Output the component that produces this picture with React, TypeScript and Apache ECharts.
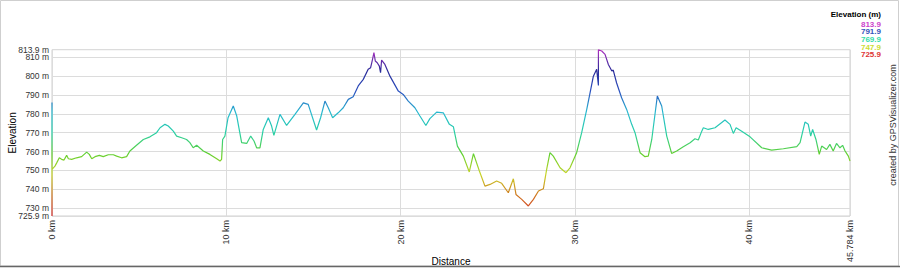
import React, { useEffect, useRef } from "react";
import * as echarts from "echarts";

const distanceKm: number[] = [
  0, 0, 0, 0.17, 0.27, 0.42, 0.55, 0.69, 0.84, 0.94, 1.13, 1.41, 1.7, 1.99, 2.14, 2.28, 2.47, 2.72, 2.94, 3.23,
  3.52, 3.71, 3.99, 4.28, 4.47, 4.85, 5.24, 5.62, 6.0, 6.2, 6.48, 6.67, 6.96, 7.15, 7.44, 7.72, 7.91, 8.1, 8.3,
  8.68, 9.06, 9.45, 9.64, 9.73, 9.79, 9.92, 10.1, 10.4, 10.6, 10.88, 11.17, 11.4, 11.59, 11.74, 11.93, 12.12,
  12.41, 12.6, 12.73, 13.08, 13.46, 13.94, 14.42, 14.7, 15.18, 15.41, 15.66, 15.85, 16.1, 16.42, 16.71, 17.0,
  17.28, 17.57, 17.86, 18.14, 18.28, 18.39, 18.47, 18.55, 18.66, 18.78, 18.85, 18.91, 19.1, 19.39, 19.87, 20.15,
  20.44, 20.82, 21.11, 21.45, 21.68, 22.07, 22.45, 22.8, 23.03, 23.26, 23.6, 23.94, 24.18, 24.52, 24.84, 25.13,
  25.51, 25.8, 26.18, 26.47, 26.62, 26.95, 27.33, 27.62, 27.91, 28.19, 28.38, 28.57, 28.76, 29.15, 29.49, 29.72,
  30.1, 30.39, 30.68, 30.87, 31.06, 31.25, 31.35, 31.35, 31.54, 31.73, 31.92, 32.12, 32.2, 32.39, 32.68, 32.97,
  33.26, 33.45, 33.74, 34.02, 34.21, 34.41, 34.73, 34.98, 35.27, 35.55, 35.84, 36.22, 36.61, 36.89, 37.08, 37.28,
  37.37, 37.65, 38.04, 38.61, 38.9, 39.09, 39.25, 39.57, 40.05, 40.72, 41.29, 41.96, 42.73, 42.92, 43.2, 43.39,
  43.53, 43.64, 43.83, 44.02, 44.16, 44.44, 44.63, 44.82, 45.01, 45.21, 45.36, 45.5, 45.69, 45.784,
];

const elevationM: number[] = [
  725.9, 786, 750.6, 752.3, 754, 756.7, 755.9, 755.5, 758, 756.2, 755.9, 756.7, 757.3, 759.7, 758.5, 756.2, 757.3,
  758, 757.3, 758.3, 758.3, 757.6, 756.7, 757.3, 760.3, 763.3, 766.4, 767.8, 770, 772.6, 774.4, 773.5, 770.8,
  768.2, 767.3, 766.4, 764.7, 762, 763.3, 760.3, 758.5, 756.2, 755, 755.9, 766.4, 768.2, 777.9, 784.1, 778.8,
  764.7, 764.3, 768.2, 765.6, 762, 762, 771.7, 777.9, 773.5, 768.6, 779.7, 773.8, 779.7, 785.8, 785, 771.4, 777.9,
  786.7, 783.2, 777.9, 780.5, 783.2, 787.6, 789, 794.7, 798.2, 803.5, 804.4, 808.8, 812.3, 807.9, 807, 805.2,
  801.7, 808.4, 806.1, 799.9, 792, 790.2, 786.7, 783.2, 778.8, 773.8, 777.4, 780.9, 780.5, 774.4, 773.1, 762.9,
  757.6, 749.2, 758.9, 749.7, 741.7, 742.6, 744.4, 743.2, 738.2, 745.6, 737.3, 734.7, 731.2, 734.7, 739.1, 740.3,
  750.6, 759.4, 757.6, 751.4, 748.8, 751.4, 759.4, 770, 782.3, 791.1, 799.9, 803.5, 795, 813.9, 813.2, 811.4,
  806.1, 802.6, 803.1, 796.4, 788.5, 782.3, 774.4, 770, 759.4, 757.3, 757.6, 766.4, 789.4, 784.1, 768.2, 759,
  760.3, 762.6, 764.7, 766.8, 766.1, 770.8, 772.6, 771.7, 772.6, 776.7, 774.4, 769.6, 772.6, 770.8, 767.8, 762,
  760.8, 761.5, 762.6, 764.7, 775.6, 774.4, 768.2, 771.7, 766.4, 758.5, 762.9, 761.1, 763.8, 760.3, 764.3, 762,
  763.3, 760.3, 757.6, 755,
];

const xTickValues: number[] = [0, 10, 20, 30, 40, 45.784];
const yTickValues: number[] = [725.9, 740, 750, 760, 770, 780, 790, 800, 813.9];
const yTickValuesNearEdges: number[] = [730, 810];
const legendValues: string[] = ["813.9", "791.9", "769.9", "747.9", "725.9"];
const legendColors: string[] = ["#cc44cc", "#3355bb", "#33ddaa", "#ccdd33", "#dd3333"];
const gradientColors: string[] = [
  "#d42a2a", "#d07820", "#c8d428", "#60d030", "#28d0a8", "#28b8d0", "#2a50c0", "#2a2a98", "#b030c0",
];

const FONT = "'Liberation Sans', Arial, sans-serif";

export default function App() {
  const ref = useRef<HTMLDivElement>(null);
  useEffect(() => {
    if (!ref.current) return;
    document.body.style.margin = "0";
    const chart = echarts.init(ref.current, null, { renderer: "svg" });
    const data = distanceKm.map((d, i) => [d, elevationM[i]]);
    const minE = yTickValues[0];
    const maxE = yTickValues[yTickValues.length - 1];
    const legendGraphics: any[] = legendValues.map((v, i) => ({
      type: "text",
      x: 881,
      y: 20 + i * 7.7,
      style: { text: v, fill: legendColors[i], font: `bold 8px ${FONT}`, textAlign: "right", textVerticalAlign: "top" },
    }));
    const yLabel = (values: number[]) => ({
      customValues: values,
      showMinLabel: true,
      showMaxLabel: true,
      hideOverlap: false,
      margin: 3,
      fontFamily: FONT,
      fontSize: 8.5,
      lineHeight: 7,
      color: "#333",
      formatter: (v: number) => `${v} m`,
    });
    chart.setOption({
      animation: false,
      backgroundColor: "#fff",
      grid: {
        left: 52,
        right: 50,
        top: 49.7,
        bottom: 52,
        outerBoundsMode: "none",
        containLabel: false,
        show: true,
        borderColor: "#d0d0d0",
        borderWidth: 1,
      },
      visualMap: {
        type: "continuous",
        show: false,
        dimension: 1,
        seriesIndex: 0,
        min: minE,
        max: maxE,
        inRange: { color: gradientColors },
      },
      xAxis: {
        type: "value",
        min: 0,
        max: 45.784,
        name: "Distance",
        nameLocation: "middle",
        nameGap: 40,
        nameMoveOverlap: false,
        nameTextStyle: { fontFamily: FONT, fontSize: 10, color: "#000" },
        axisLine: { show: false },
        axisTick: { show: false, customValues: xTickValues },
        axisLabel: {
          customValues: xTickValues,
          showMinLabel: true,
          showMaxLabel: true,
          rotate: 90,
          margin: 4,
          fontFamily: FONT,
          fontSize: 9,
          color: "#333",
          formatter: (v: number) => `${v} km`,
        },
        splitLine: { show: true, lineStyle: { color: "#dcdcdc", width: 1 } },
      },
      yAxis: [
        {
          type: "value",
          min: minE,
          max: maxE,
          name: "Elevation",
          nameLocation: "middle",
          nameGap: 35,
          nameMoveOverlap: false,
          nameTextStyle: { fontFamily: FONT, fontSize: 10, color: "#000" },
          axisLine: { show: false },
          axisTick: { show: false, customValues: yTickValues },
          axisLabel: yLabel(yTickValues),
          splitLine: { show: true, lineStyle: { color: "#dcdcdc", width: 1 } },
        },
        {
          type: "value",
          position: "left",
          min: minE,
          max: maxE,
          axisLine: { show: false },
          axisTick: { show: false, customValues: yTickValuesNearEdges },
          axisLabel: yLabel(yTickValuesNearEdges),
          splitLine: { show: true, lineStyle: { color: "#dcdcdc", width: 1 } },
        },
      ],
      series: [
        {
          type: "line",
          data,
          yAxisIndex: 0,
          showSymbol: false,
          symbol: "none",
          lineStyle: { width: 1.2 },
        },
      ],
      graphic: [
        {
          type: "rect",
          shape: { x: 0.5, y: 0.5, width: 898, height: 265.5 },
          style: { fill: "none", stroke: "#cfcfcf", lineWidth: 1 },
          silent: true,
        },
        {
          type: "line",
          shape: { x1: 0, y1: 266.5, x2: 900, y2: 266.5 },
          style: { stroke: "#666", lineWidth: 1.5 },
          silent: true,
        },
        {
          type: "text",
          x: 881,
          y: 10,
          style: { text: "Elevation (m)", fill: "#000", font: `bold 8px ${FONT}`, textAlign: "right", textVerticalAlign: "top" },
        },
        ...legendGraphics,
        {
          type: "text",
          x: 893,
          y: 125,
          rotation: Math.PI / 2,
          style: {
            text: "created by GPSVisualizer.com",
            fill: "#333",
            font: `9px ${FONT}`,
            textAlign: "center",
            textVerticalAlign: "middle",
          },
        },
      ],
    });
    return () => chart.dispose();
  }, []);
  return <div ref={ref} style={{ width: 900, height: 268 }} />;
}
